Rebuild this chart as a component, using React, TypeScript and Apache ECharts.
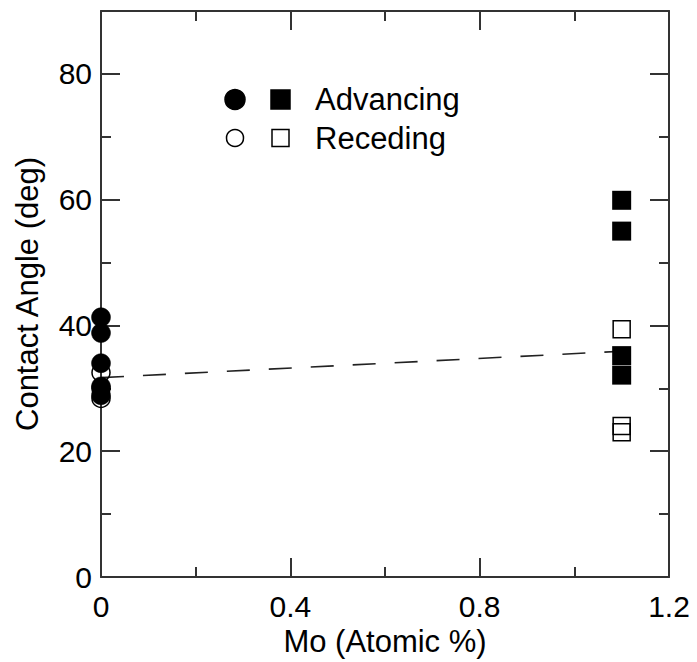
import React, { useEffect, useRef } from "react";
import * as echarts from "echarts";

// ---- data ----
const advCircleX = [0, 0, 0, 0, 0];
const advCircleY = [41.3, 38.8, 34.0, 30.3, 28.9];
const recCircleX = [0, 0, 0];
const recCircleY = [32.5, 30.0, 28.4];
const advSquareX = [1.1, 1.1, 1.1, 1.1];
const advSquareY = [59.9, 55.0, 35.2, 32.1];
const recSquareX = [1.1, 1.1, 1.1];
const recSquareY = [39.4, 24.0, 23.0];
const fitX = [0, 1.1];
const fitY = [31.7, 35.9];

const yMajorTicks = [0, 20, 40, 60, 80];
const yMinorTicks = [10, 30, 50, 70];
const xMajorTicks = [0, 0.4, 0.8, 1.2];
const xMinorTicks = [0.2, 0.6, 1.0];

const legendRows = ["Advancing", "Receding"];

const FONT = "'Liberation Sans', Arial, Helvetica, sans-serif";
const AX = "#333";

function pairs(xs: number[], ys: number[]) {
  return ys.map((y, i) => [xs[i], y]);
}

export default function App() {
  const ref = useRef<HTMLDivElement>(null);
  useEffect(() => {
    if (!ref.current) return;
    const chart = echarts.init(ref.current, undefined, { renderer: "svg" });
    const axisLine = { show: true, onZero: false, lineStyle: { color: AX, width: 2 } };
    const noLine = { show: false, onZero: false };
    const tick = (values: number[], length: number) => ({
      show: true,
      inside: true,
      length,
      customValues: values,
      lineStyle: { color: AX, width: 2 },
    });
    const xCommon = {
      type: "value",
      min: 0,
      max: 1.2,
      interval: 0.2,
      splitLine: { show: false },
    };
    const yCommon = {
      type: "value",
      min: 0,
      max: 90,
      interval: 10,
      splitLine: { show: false },
    };
    const legendGraphics: any[] = [];
    const rowY = [99.5, 138];
    legendRows.forEach((label, i) => {
      const filled = i === 0;
      const fill = filled ? "#000" : "none";
      legendGraphics.push({
        type: "circle",
        shape: { cx: 235, cy: rowY[i], r: filled ? 10 : 8.5 },
        style: { fill, stroke: "#000", lineWidth: 1.5 },
      });
      legendGraphics.push({
        type: "rect",
        shape: filled
          ? { x: 271, y: rowY[i] - 9.5, width: 19, height: 19 }
          : { x: 272, y: rowY[i] - 8.5, width: 17, height: 17 },
        style: { fill, stroke: "#000", lineWidth: 1.5 },
      });
      legendGraphics.push({
        type: "text",
        x: 315,
        y: rowY[i],
        style: {
          text: label,
          font: `31px ${FONT}`,
          fill: "#000",
          textAlign: "left",
          textVerticalAlign: "middle",
        },
      });
    });

    const titleStyle = { fontSize: 31, fontFamily: FONT, color: "#000" };

    chart.setOption({
      animation: false,
      backgroundColor: "#fff",
      grid: { left: 101, right: 28, top: 11, bottom: 85, containLabel: false },
      xAxis: [
        {
          ...xCommon,
          position: "bottom",
          axisLine,
          axisTick: tick(xMajorTicks, 19),
          axisLabel: {
            show: true,
            customValues: xMajorTicks,
            fontSize: 30,
            fontFamily: FONT,
            color: "#000",
            margin: 14,
            formatter: (v: number) => String(Math.round(v * 10) / 10),
          },
          name: "Mo (Atomic %)",
          nameLocation: "middle",
          nameGap: 43,
          nameTextStyle: titleStyle,
        },
        {
          ...xCommon,
          position: "bottom",
          axisLine: noLine,
          axisTick: tick(xMinorTicks, 10),
          axisLabel: { show: false },
        },
        {
          ...xCommon,
          position: "top",
          axisLine,
          axisTick: tick(xMajorTicks, 19),
          axisLabel: { show: false },
        },
        {
          ...xCommon,
          position: "top",
          axisLine: noLine,
          axisTick: tick(xMinorTicks, 10),
          axisLabel: { show: false },
        },
      ],
      yAxis: [
        {
          ...yCommon,
          position: "left",
          axisLine,
          axisTick: tick(yMajorTicks, 19),
          axisLabel: {
            show: true,
            customValues: yMajorTicks,
            fontSize: 30,
            fontFamily: FONT,
            color: "#000",
            margin: 9,
          },
          name: "Contact Angle (deg)",
          nameLocation: "middle",
          nameGap: 58,
          nameTextStyle: titleStyle,
        },
        {
          ...yCommon,
          position: "left",
          axisLine: noLine,
          axisTick: tick(yMinorTicks, 10),
          axisLabel: { show: false },
        },
        {
          ...yCommon,
          position: "right",
          axisLine,
          axisTick: tick(yMajorTicks, 19),
          axisLabel: { show: false },
        },
        {
          ...yCommon,
          position: "right",
          axisLine: noLine,
          axisTick: tick(yMinorTicks, 10),
          axisLabel: { show: false },
        },
      ],
      graphic: legendGraphics,
      series: [
        {
          type: "line",
          data: pairs(fitX, fitY),
          symbol: "none",
          lineStyle: { color: "#222", width: 1.6, type: [23, 19] },
          z: 1,
        },
        {
          type: "scatter",
          data: pairs(recCircleX, recCircleY),
          symbol: "circle",
          symbolSize: 18,
          itemStyle: { color: "transparent", borderColor: "#000", borderWidth: 1.5, opacity: 1 },
          z: 2,
        },
        {
          type: "scatter",
          data: pairs(advCircleX, advCircleY),
          symbol: "circle",
          symbolSize: 19,
          itemStyle: { color: "#000", borderColor: "#000", borderWidth: 0.5, opacity: 1 },
          z: 3,
        },
        {
          type: "scatter",
          data: pairs(recSquareX, recSquareY),
          symbol: "rect",
          symbolSize: 17,
          itemStyle: { color: "transparent", borderColor: "#000", borderWidth: 1.5, opacity: 1 },
          z: 2,
        },
        {
          type: "scatter",
          data: pairs(advSquareX, advSquareY),
          symbol: "rect",
          symbolSize: 19,
          itemStyle: { color: "#000", opacity: 1 },
          z: 3,
        },
      ],
    });
    return () => chart.dispose();
  }, []);
  return (
    <div
      ref={ref}
      style={{ position: "absolute", left: 0, top: 0, width: 697, height: 662, background: "#fff" }}
    />
  );
}
